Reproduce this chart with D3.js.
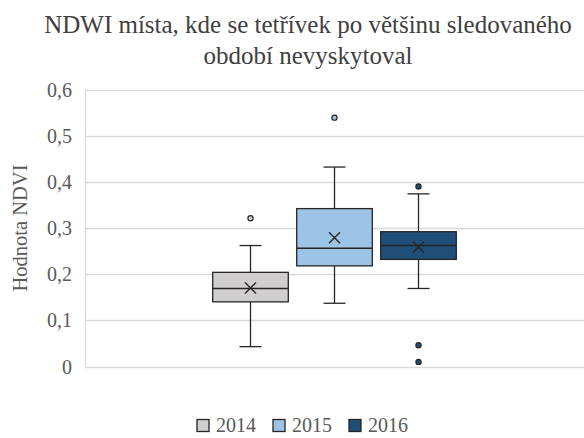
<!DOCTYPE html>
<html>
<head>
<meta charset="utf-8">
<script src="https://cdn.jsdelivr.net/npm/d3@7"></script>
<style>
  body { margin: 0; background: #fff; }
</style>
</head>
<body>
<div id="chart"></div>
<script>
// box plot data
var years = ["2014", "2015", "2016"]
var colors = ["#d0cece", "#9dc3e6", "#1f4e79"]
var whiskerLow = [0.043, 0.137, 0.169]
var q1 = [0.140, 0.218, 0.232]
var median = [0.169, 0.256, 0.262]
var q3 = [0.204, 0.342, 0.292]
var whiskerHigh = [0.262, 0.432, 0.374]
var mean = [0.170, 0.279, 0.259]
var outliers = [[0.321], [0.539], [0.390, 0.046, 0.010]]
var yTicks = [0, 0.1, 0.2, 0.3, 0.4, 0.5, 0.6]
var titleLines = ["NDWI místa, kde se tetřívek po většinu sledovaného", "období nevyskytoval"]
var yLabel = "Hodnota NDVI"

var width = 584, height = 438
var plot = {left: 85, right: 584, top: 89.5, bottom: 366.5}
var font = "Liberation Serif, Tinos, Times New Roman, Times, DejaVu Serif, Noto Serif, FreeSerif, serif"
var lineColor = "#262626"
var gridColor = "#d9d9d9"
var textColor = "#595959"

var svg = d3.select("#chart").append("svg")
    .attr("width", width)
    .attr("height", height)
    .style("font-family", font)

var y = d3.scaleLinear().domain([0, 0.6]).range([plot.bottom, plot.top])

var cx = (plot.left + plot.right) / 2
var x = d3.scaleBand()
    .domain(years)
    .range([cx - 126, cx + 126])
    .paddingInner(0.1)
    .paddingOuter(0.05)

// grid
svg.append("g").selectAll("line")
  .data(yTicks)
  .enter().append("line")
    .attr("x1", plot.left).attr("x2", plot.right)
    .attr("y1", function(d) { return Math.round(y(d)) + 0.5 })
    .attr("y2", function(d) { return Math.round(y(d)) + 0.5 })
    .attr("stroke", gridColor)
    .attr("stroke-width", 1.3)

svg.append("line")
    .attr("x1", plot.left + 0.5).attr("x2", plot.left + 0.5)
    .attr("y1", y(0.6)).attr("y2", y(0))
    .attr("stroke", gridColor)
    .attr("stroke-width", 1.3)

// tick labels
var fmt = function(d) { return d === 0 ? "0" : d3.format(".1f")(d).replace(".", ",") }
svg.append("g").selectAll("text")
  .data(yTicks)
  .enter().append("text")
    .attr("x", 72)
    .attr("y", function(d) { return y(d) })
    .attr("dy", "0.35em")
    .attr("text-anchor", "end")
    .attr("font-size", 20)
    .attr("fill", textColor)
    .text(fmt)

svg.append("text")
    .attr("transform", "translate(27," + ((plot.top + plot.bottom) / 2) + ") rotate(-90)")
    .attr("text-anchor", "middle")
    .attr("font-size", 20.5)
    .attr("fill", textColor)
    .text(yLabel)

// title
svg.append("g").selectAll("text")
  .data(titleLines)
  .enter().append("text")
    .attr("x", 308)
    .attr("y", function(d, i) { return 33 + i * 30.5 })
    .attr("text-anchor", "middle")
    .attr("font-size", 25)
    .attr("fill", "#404040")
    .text(function(d) { return d })

// boxes
var boxes = svg.append("g").selectAll("g")
  .data(years)
  .enter().append("g")

boxes.each(function(yr, i) {
  var g = d3.select(this)
  var x0 = x(yr), bw = x.bandwidth(), mid = x0 + bw / 2
  var cap = 11

  g.append("line")
      .attr("x1", mid).attr("x2", mid)
      .attr("y1", y(whiskerHigh[i])).attr("y2", y(q3[i]))
      .attr("stroke", lineColor).attr("stroke-width", 1.3)
  g.append("line")
      .attr("x1", mid).attr("x2", mid)
      .attr("y1", y(q1[i])).attr("y2", y(whiskerLow[i]))
      .attr("stroke", lineColor).attr("stroke-width", 1.3)
  g.selectAll(".cap")
    .data([whiskerHigh[i], whiskerLow[i]])
    .enter().append("line")
      .attr("x1", mid - cap).attr("x2", mid + cap)
      .attr("y1", function(d) { return y(d) }).attr("y2", function(d) { return y(d) })
      .attr("stroke", lineColor).attr("stroke-width", 1.3)

  g.append("rect")
      .attr("x", x0).attr("width", bw)
      .attr("y", y(q3[i])).attr("height", y(q1[i]) - y(q3[i]))
      .attr("fill", colors[i])
      .attr("stroke", lineColor).attr("stroke-width", 1.3)

  g.append("line")
      .attr("x1", x0).attr("x2", x0 + bw)
      .attr("y1", y(median[i])).attr("y2", y(median[i]))
      .attr("stroke", lineColor).attr("stroke-width", 1.5)

  var m = 5.5, my = y(mean[i])
  g.append("path")
      .attr("d", "M" + (mid - m) + "," + (my - m) + "L" + (mid + m) + "," + (my + m) +
                 "M" + (mid - m) + "," + (my + m) + "L" + (mid + m) + "," + (my - m))
      .attr("stroke", lineColor).attr("stroke-width", 1.4)
      .attr("fill", "none")

  g.selectAll("circle")
    .data(outliers[i])
    .enter().append("circle")
      .attr("cx", mid)
      .attr("cy", function(d) { return y(d) })
      .attr("r", 2.6)
      .attr("fill", colors[i])
      .attr("stroke", lineColor).attr("stroke-width", 1.2)
})

// legend
var legend = svg.append("g")
var lx = 0
var items = legend.selectAll("g")
  .data(years)
  .enter().append("g")
items.append("rect")
    .attr("width", 12).attr("height", 12)
    .attr("y", -12.5)
    .attr("fill", function(d, i) { return colors[i] })
    .attr("stroke", lineColor).attr("stroke-width", 1.3)
items.append("text")
    .attr("x", 19)
    .attr("font-size", 20)
    .attr("fill", textColor)
    .text(function(d) { return d })
items.each(function() {
  var w = 19 + this.querySelector("text").getComputedTextLength()
  d3.select(this).attr("transform", "translate(" + lx + ",0)")
  lx += w + 17
})
lx -= 17
legend.attr("transform", "translate(" + (302.5 - lx / 2) + ",432)")
</script>
</body>
</html>
